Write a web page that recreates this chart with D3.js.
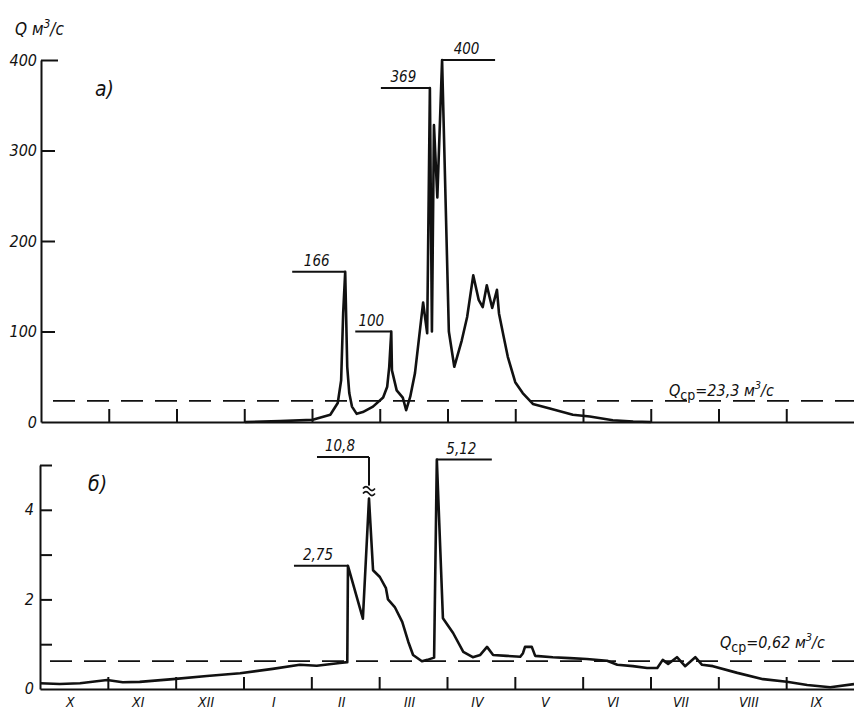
<!DOCTYPE html>
<html>
<head>
<meta charset="utf-8">
<script src="https://cdn.jsdelivr.net/npm/d3@7"></script>
<style>
  body { margin: 0; background: #fff; }
  svg { display: block; background: #fff; }
  text { font-family: 'DejaVu Sans Condensed', 'DejaVu Sans', sans-serif; font-style: italic; fill: #111; }
</style>
</head>
<body>
<svg id="chart" width="854" height="712"></svg>
<script>
// Hydrological year, October to September
const months = ['X', 'XI', 'XII', 'I', 'II', 'III', 'IV', 'V', 'VI', 'VII', 'VIII', 'IX'];

// a) large river: time in months since 1 October, discharge in m³/s
const flowA_t = [3.01, 3.53, 4.01, 4.27, 4.38, 4.43, 4.46, 4.49, 4.52, 4.55, 4.59, 4.66, 4.75, 4.90,
  5.05, 5.11, 5.14, 5.17, 5.18, 5.25, 5.34, 5.39, 5.45, 5.52, 5.56, 5.64, 5.70, 5.74, 5.77, 5.80,
  5.85, 5.92, 5.99, 6.02, 6.10, 6.21, 6.29, 6.38, 6.46, 6.52, 6.58, 6.66, 6.73, 6.76, 6.83, 6.89,
  7.00, 7.11, 7.26, 7.51, 7.85, 8.10, 8.44, 8.74, 9.00];
const flowA_q = [0, 1, 2.5, 8, 21, 46, 120, 166, 61, 32, 17, 9, 11, 17,
  27, 39, 61, 100, 57, 35, 27, 13, 28, 54, 80, 132, 98, 369, 100, 328,
  248, 400, 190, 100, 61, 90, 116, 162, 135, 127, 151, 126, 146, 120, 94, 72,
  44, 32, 20, 15, 8, 6, 2, 0.5, 0];
const meanA = 23.3;
const yTicksA = [0, 100, 200, 300, 400];
const peaksA_t = [4.49, 5.17, 5.74, 5.92];
const peaksA_q = [166, 100, 369, 400];
const peaksA_text = ['166', '100', '369', '400'];
const peaksA_side = ['left', 'left', 'left', 'right'];

// б) small stream: time in months since 1 October, discharge in m³/s
const flowB_t = [0, 0.29, 0.59, 0.99, 1.22, 1.47, 1.96, 2.46, 2.95, 3.43, 3.83, 4.08, 4.42, 4.53,
  4.54, 4.76, 4.85, 4.91, 5.01, 5.10, 5.13, 5.23, 5.34, 5.43, 5.50, 5.63, 5.71, 5.81, 5.85,
  5.94, 6.09, 6.24, 6.38, 6.49, 6.59, 6.68, 6.88, 7.08, 7.12, 7.15, 7.25, 7.30, 7.56, 7.81,
  8.06, 8.36, 8.51, 8.74, 8.95, 9.10, 9.18, 9.26, 9.39, 9.51, 9.66, 9.76, 9.92, 10.28, 10.66,
  11.01, 11.31, 11.65, 12.0];
const flowB_q = [0.13, 0.11, 0.13, 0.20, 0.15, 0.16, 0.22, 0.29, 0.35, 0.45, 0.54, 0.52, 0.58, 0.60,
  2.75, 1.57, 10.8, 2.65, 2.5, 2.25, 2.0, 1.83, 1.5, 1.05, 0.76, 0.62, 0.65, 0.70, 5.12,
  1.58, 1.25, 0.83, 0.71, 0.76, 0.94, 0.76, 0.74, 0.72, 0.80, 0.94, 0.94, 0.74, 0.71, 0.69,
  0.67, 0.63, 0.54, 0.51, 0.47, 0.47, 0.65, 0.56, 0.71, 0.51, 0.71, 0.54, 0.51, 0.36, 0.22,
  0.16, 0.09, 0.04, 0.11];
const meanB = 0.62;
const yTicksB = [1, 2, 3, 4, 5];
const yLabelsB = [0, 2, 4];
const peaksB_t = [4.54, 4.85, 5.85];
const peaksB_q = [2.75, 10.8, 5.12];
const peaksB_text = ['2,75', '10,8', '5,12'];
const peaksB_side = ['left', 'left', 'right'];

// leader lengths (px) for the peak call-outs
const leaderA = [53, 36, 49, 53];
const leaderB = [54, 52, 55];

const INK = '#111';
const svg = d3.select('#chart');

// ---------- scales ----------
const xA = d3.scaleLinear().domain([0, 12]).range([41, 854]);
const yA = d3.scaleLinear().domain([0, 400]).range([422, 60]);
const xB = d3.scaleLinear().domain([0, 12]).range([40, 854]);
const yB = d3.scaleLinear().domain([0, 5]).range([689, 465]);
const clipAbove = 6;    // values above this are drawn with a broken ordinate
const breakAt = 4.25;   // drawn height of an off-scale peak below its break mark

function styleAxis(g, size) {
  g.attr('font-family', null).attr('font-size', null);
  g.selectAll('path.domain').attr('stroke', INK).attr('stroke-width', 2);
  g.selectAll('.tick line').attr('stroke', INK).attr('stroke-width', 2);
  g.selectAll('.tick text').attr('fill', INK).style('font-size', size + 'px');
}

// ---------- panel a ----------
const gA = svg.append('g');

gA.append('g').attr('transform', `translate(0,${yA(0)})`)
  .call(d3.axisBottom(xA).tickValues(d3.range(1, 12)).tickSize(-13).tickSizeOuter(0).tickFormat(''))
  .call(g => styleAxis(g, 14));

gA.append('g').attr('transform', `translate(${xA(0)},0)`)
  .call(d3.axisLeft(yA).tickValues(yTicksA).tickSize(-14).tickSizeOuter(0).tickPadding(4))
  .call(g => styleAxis(g, 16))
  .call(g => g.selectAll('.tick').filter(d => d === 0).select('line').remove())
  .call(g => g.selectAll('.tick').filter(d => d === 400).select('line').attr('x2', 17));

gA.append('line')
  .attr('x1', xA(0) + 12).attr('x2', 854)
  .attr('y1', yA(meanA)).attr('y2', yA(meanA))
  .attr('stroke', INK).attr('stroke-width', 1.8).attr('stroke-dasharray', '22,12');

const lineA = d3.line().x(d => xA(d[0])).y(d => yA(d[1]));
gA.append('path')
  .datum(d3.zip(flowA_t, flowA_q))
  .attr('d', lineA)
  .attr('fill', 'none').attr('stroke', INK).attr('stroke-width', 2.6)
  .attr('stroke-linejoin', 'round');

peaksA_t.forEach((t, i) => {
  const px = xA(t), py = yA(peaksA_q[i]);
  const len = leaderA[i];
  const x0 = peaksA_side[i] === 'left' ? px - len : px;
  const x1 = peaksA_side[i] === 'left' ? px : px + len;
  gA.append('line').attr('x1', x0).attr('x2', x1).attr('y1', py).attr('y2', py)
    .attr('stroke', INK).attr('stroke-width', 2);
  gA.append('text').attr('x', (x0 + x1) / 2 - 2).attr('y', py - 6)
    .attr('text-anchor', 'middle').style('font-size', '15px').text(peaksA_text[i]);
});

// axis title
const titleA = svg.append('text').attr('x', 15).attr('y', 35).style('font-size', '17px');
titleA.append('tspan').text('Q м');
titleA.append('tspan').attr('dy', -7).style('font-size', '12px').text('3');
titleA.append('tspan').attr('dy', 7).text('/с');

svg.append('text').attr('x', 95).attr('y', 96).style('font-size', '21px').text('а)');

const meanLabelA = svg.append('text').attr('x', 669).attr('y', 396).style('font-size', '16px');
meanLabelA.append('tspan').text('Q');
meanLabelA.append('tspan').attr('dy', 4).style('font-style', 'normal').style('font-size', '14px').text('ср');
meanLabelA.append('tspan').attr('dy', -4).text('=' + String(meanA).replace('.', ',') + ' м');
meanLabelA.append('tspan').attr('dy', -7).style('font-size', '11px').text('3');
meanLabelA.append('tspan').attr('dy', 7).text('/с');

// ---------- panel б ----------
const gB = svg.append('g');

gB.append('g').attr('transform', `translate(0,${yB(0)})`)
  .call(d3.axisBottom(xB).tickValues(d3.range(1, 12)).tickSize(-12).tickSizeOuter(0).tickFormat(''))
  .call(g => styleAxis(g, 14));

// month names centred in each month
gB.append('g').attr('transform', `translate(-4,${yB(0)})`)
  .call(d3.axisBottom(xB).tickValues(d3.range(12).map(i => i + 0.5)).tickSize(0).tickPadding(8)
    .tickFormat((d, i) => months[i]))
  .call(g => styleAxis(g, 14))
  .call(g => g.select('path.domain').remove());

gB.append('g').attr('transform', `translate(${xB(0)},0)`)
  .call(d3.axisLeft(yB).tickValues(yTicksB).tickSize(-12).tickSizeOuter(0).tickPadding(6)
    .tickFormat(d => yLabelsB.includes(d) ? d : ''))
  .call(g => styleAxis(g, 16));
gB.append('text').attr('x', xB(0) - 6).attr('y', yB(0)).attr('dy', '0.32em')
  .attr('text-anchor', 'end').style('font-size', '16px').text('0');

gB.append('line')
  .attr('x1', xB(0) + 10).attr('x2', 854)
  .attr('y1', yB(meanB)).attr('y2', yB(meanB))
  .attr('stroke', INK).attr('stroke-width', 1.8).attr('stroke-dasharray', '22,12');

const yMaxB = yB.domain()[1];
const lineB = d3.line().x(d => xB(d[0])).y(d => yB(d[1] > clipAbove ? breakAt : d[1]));
gB.append('path')
  .datum(d3.zip(flowB_t, flowB_q))
  .attr('d', lineB)
  .attr('fill', 'none').attr('stroke', INK).attr('stroke-width', 2.6)
  .attr('stroke-linejoin', 'round');

peaksB_t.forEach((t, i) => {
  const q = peaksB_q[i];
  const px = xB(t);
  const off = q > clipAbove;
  const py = off ? yB(yMaxB) - 8 : yB(q);
  const len = leaderB[i];
  const x0 = peaksB_side[i] === 'left' ? px - len : px;
  const x1 = peaksB_side[i] === 'left' ? px : px + len;
  gB.append('line').attr('x1', x0).attr('x2', x1).attr('y1', py).attr('y2', py)
    .attr('stroke', INK).attr('stroke-width', 2);
  gB.append('text').attr('x', (x0 + x1) / 2 - 3).attr('y', py - 6)
    .attr('text-anchor', 'middle').style('font-size', '15px').text(peaksB_text[i]);
  if (off) {
    // stem from the call-out down to the break mark, then the break itself
    const yb = yB(breakAt);
    gB.append('line').attr('x1', px).attr('x2', px).attr('y1', py).attr('y2', yb - 13)
      .attr('stroke', INK).attr('stroke-width', 2);
    [yb - 11, yb - 6].forEach(yy => {
      gB.append('path')
        .attr('d', `M${px - 6},${yy + 1} q3,-4 6,0 t6,0`)
        .attr('fill', 'none').attr('stroke', INK).attr('stroke-width', 1.6);
    });
  }
});

svg.append('text').attr('x', 88).attr('y', 491).style('font-size', '21px').text('б)');

const meanLabelB = svg.append('text').attr('x', 720).attr('y', 648).style('font-size', '16px');
meanLabelB.append('tspan').text('Q');
meanLabelB.append('tspan').attr('dy', 4).style('font-style', 'normal').style('font-size', '14px').text('ср');
meanLabelB.append('tspan').attr('dy', -4).text('=' + String(meanB).replace('.', ',') + ' м');
meanLabelB.append('tspan').attr('dy', -7).style('font-size', '11px').text('3');
meanLabelB.append('tspan').attr('dy', 7).text('/с');
</script>
</body>
</html>
